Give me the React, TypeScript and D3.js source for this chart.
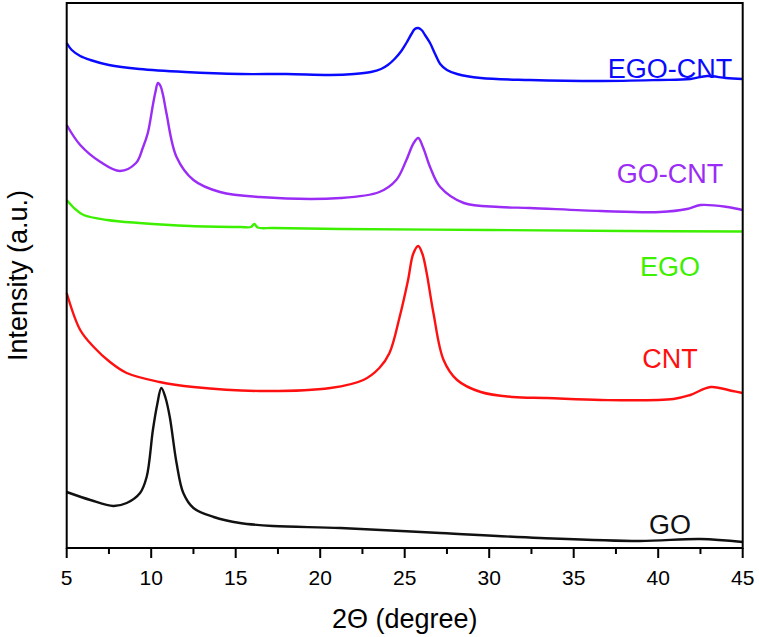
import React from "react";
import * as d3 from "d3";

// 2Θ (degree) / intensity (a.u. with vertical offsets included)
const egoCntX = [5.0, 5.3, 5.8, 6.4, 7.5, 9.3, 12.0, 15.3, 18.0, 20.6, 22.0, 23.0, 23.6, 24.0, 24.4, 24.8, 25.1, 25.4, 25.6, 25.8, 26.0, 26.2, 26.5, 26.8, 27.1, 27.5, 28.1, 29.5, 32.4, 36.6, 40.0, 41.9, 42.9, 44.0, 45.0];
const egoCntY = [505, 498, 492, 488, 483, 479, 476, 474, 474, 473, 474, 476, 479, 483, 489, 497, 505, 514, 519, 520, 518, 513, 505, 494, 484, 478, 474, 470, 468, 467, 468, 469, 472, 470, 469];

const goCntX = [5.0, 5.8, 7.0, 8.15, 9.1, 9.5, 9.8, 10.1, 10.25, 10.4, 10.55, 10.7, 10.9, 11.5, 12.5, 14.07, 16.4, 21.2, 23.5, 24.5, 25.1, 25.5, 25.8, 26.1, 26.5, 27.1, 28.5, 30.6, 32.4, 36.6, 40.1, 41.7, 42.5, 44.1, 45.0];
const goCntY = [423, 403, 386, 377, 385, 400, 415, 443, 456, 465, 462, 453, 435, 391, 368, 356, 351, 350, 356, 368, 388, 404, 410, 400, 381, 361, 345, 341, 340, 337, 336, 339, 343, 341, 338];

const egoX = [5.0, 5.5, 6.0, 7.4, 9.3, 12.3, 15.3, 15.9, 16.1, 16.3, 17.2, 21.2, 30.0, 38.0, 45.0];
const egoY = [348, 339, 333, 328, 325, 322, 321, 321, 324, 320.5, 320, 319, 318, 317, 316.5];

const cntX = [5.0, 5.8, 6.6, 7.56, 8.55, 10.5, 12.5, 16.4, 20.6, 22.55, 23.5, 24.1, 24.7, 25.2, 25.5, 25.8, 26.05, 26.3, 26.7, 27.3, 28.1, 29.5, 31.4, 33.4, 36.6, 40.9, 41.9, 43.1, 44.4, 45.0];
const cntY = [255, 218, 201, 186, 175, 166, 161, 157, 160, 168, 180, 195, 231, 268, 294, 302, 294, 275, 235, 188, 168, 156, 151, 150, 148, 149, 153, 161, 157, 155];

const goX = [5.0, 6.4, 7.76, 8.55, 9.34, 9.73, 10.1, 10.35, 10.6, 10.85, 11.1, 11.5, 11.9, 12.5, 13.7, 15.25, 17.2, 21.2, 27.1, 33.0, 38.9, 42.5, 45.0];
const goY = [56, 48, 42, 45, 55, 71, 118, 143, 160, 150, 131, 85, 55, 40, 31, 25, 22, 20, 15, 10, 7, 9, 6];

const seriesNames = ["EGO-CNT", "GO-CNT", "EGO", "CNT", "GO"];
const seriesColors = ["#0a0aff", "#9a2cf5", "#3cf000", "#ff1010", "#111111"];
const seriesX = [egoCntX, goCntX, egoX, cntX, goX];
const seriesY = [egoCntY, goCntY, egoY, cntY, goY];
const labelY = [470, 365, 272, 180, 14];

const xTicks = [5, 10, 15, 20, 25, 30, 35, 40, 45];
const xMinorTicks = [7.5, 12.5, 17.5, 22.5, 27.5, 32.5, 37.5, 42.5];

const W = 759;
const H = 637;
const left = 66.7;
const right = 742.7;
const top = 3;
const bottom = 548;
const font = "'Liberation Sans', Arial, Helvetica, sans-serif";

export default function App() {
  const x = d3.scaleLinear().domain([5, 45]).range([left, right]);
  const y = d3.scaleLinear().domain([0, 545]).range([bottom, top]);
  const line = d3
    .line<[number, number]>()
    .x((d) => x(d[0]))
    .y((d) => y(d[1]))
    .curve(d3.curveCatmullRom.alpha(0.5));

  return (
    <svg
      width={W}
      height={H}
      style={{ position: "absolute", left: 0, top: 0, background: "#fff" }}
    >
      <rect x={0} y={0} width={W} height={H} fill="#fff" />
      {seriesX.map((xs, i) => {
        const pts = xs.map((v, j) => [v, seriesY[i][j]] as [number, number]);
        return (
          <path
            key={seriesNames[i]}
            d={line(pts) || ""}
            fill="none"
            stroke={seriesColors[i]}
            strokeWidth={2.4}
            strokeLinejoin="round"
          />
        );
      })}
      {seriesNames.map((n, i) => (
        <text
          key={n}
          x={670}
          y={y(labelY[i])}
          textAnchor="middle"
          fontFamily={font}
          fontSize={27}
          fill={seriesColors[i]}
        >
          {n}
        </text>
      ))}
      <rect
        x={left}
        y={top}
        width={right - left}
        height={bottom - top}
        fill="none"
        stroke="#000"
        strokeWidth={2}
      />
      {xTicks.map((t) => (
        <g key={t}>
          <line x1={x(t)} x2={x(t)} y1={bottom} y2={bottom + 10} stroke="#000" strokeWidth={2} />
          <text
            x={x(t)}
            y={585}
            textAnchor="middle"
            fontFamily={font}
            fontSize={21}
            fill="#000"
          >
            {t}
          </text>
        </g>
      ))}
      {xMinorTicks.map((t) => (
        <line key={t} x1={x(t)} x2={x(t)} y1={bottom} y2={bottom + 6} stroke="#000" strokeWidth={2} />
      ))}
      <text
        x={(left + right) / 2}
        y={628}
        textAnchor="middle"
        fontFamily={font}
        fontSize={27}
        fill="#000"
      >
        2Θ (degree)
      </text>
      <text
        transform={`translate(27, ${(top + bottom) / 2}) rotate(-90)`}
        textAnchor="middle"
        fontFamily={font}
        fontSize={27}
        fill="#000"
      >
        Intensity (a.u.)
      </text>
    </svg>
  );
}
